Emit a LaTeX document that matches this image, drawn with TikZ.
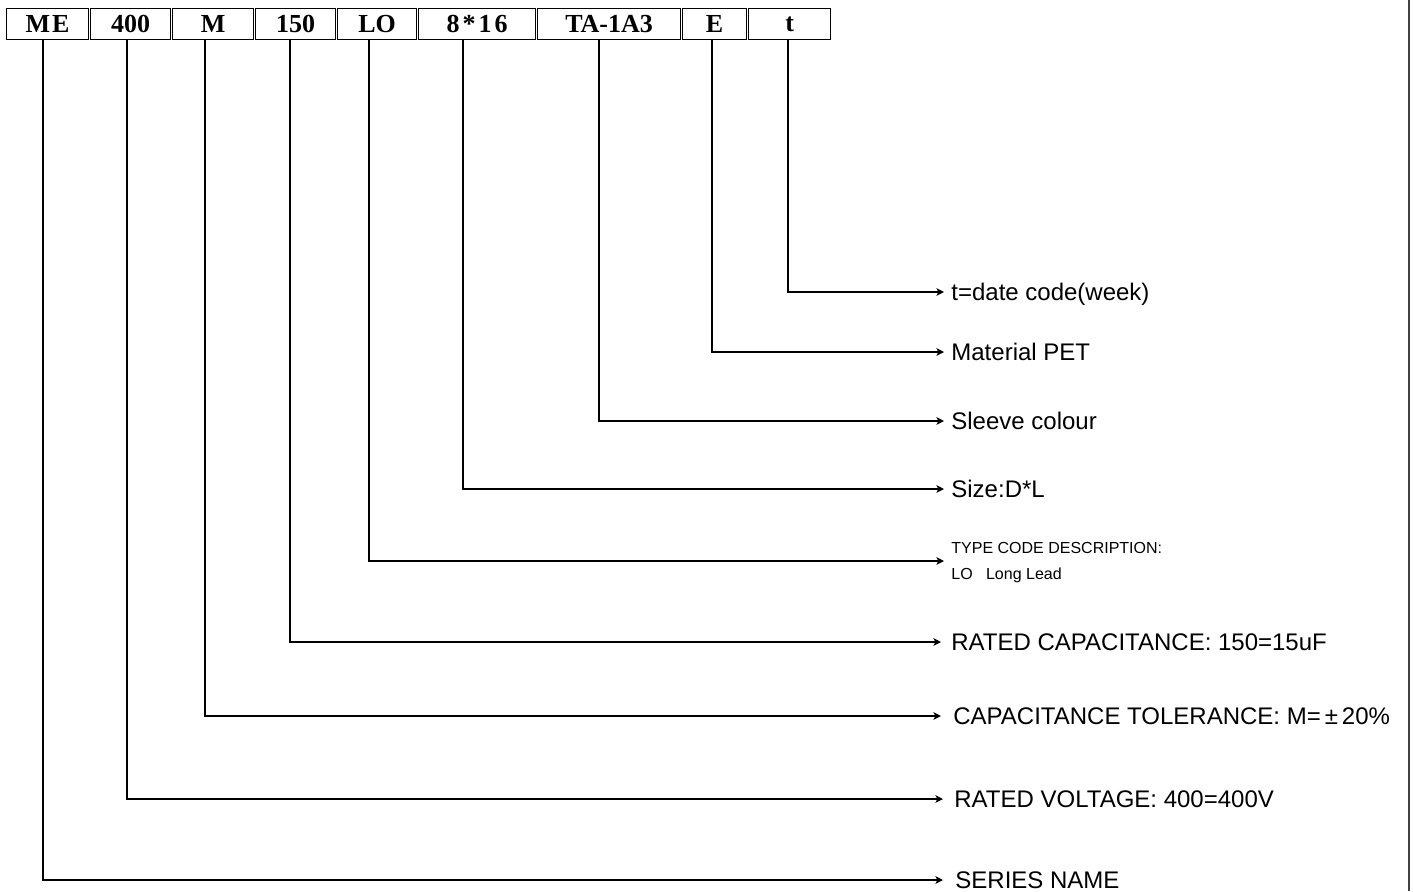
\documentclass[tikz,border=0pt]{standalone}
\usepackage{fontspec}
\setmainfont{Liberation Sans}
\newfontfamily\boxfont{Liberation Serif}
\usetikzlibrary{arrows.meta}
\begin{document}
\begin{tikzpicture}[x=0.5pt,y=-0.5pt,
  codebox/.style={draw=black,line width=0.6pt,inner sep=0pt,anchor=north west,
    minimum height=15.5pt,font=\boxfont\bfseries\fontsize{13}{14}\selectfont},
  conn/.style={line width=0.95pt,-{Stealth[length=3.8pt,width=3.8pt,inset=1pt]}},
  lbl/.style={anchor=base west,inner sep=0pt,font=\fontsize{12}{14}\selectfont},
  smalllbl/.style={anchor=west,inner sep=0pt,align=left,font=\fontsize{8}{13}\selectfont}]
\useasboundingbox (0,0) rectangle (1413,891);
% right border
\draw[line width=1.3pt,black!75] (1409,0) -- (1409,891);
% code boxes
\node[codebox,minimum width=41pt] (bME) at (6,8) {M\kern1pt E};
\node[codebox,minimum width=40pt] (b400) at (90,8) {400};
\node[codebox,minimum width=40.5pt] (bM) at (172,8) {M};
\node[codebox,minimum width=40pt] (b150) at (255,8) {150};
\node[codebox,minimum width=39.5pt] (bLO) at (337,8) {LO};
\node[codebox,minimum width=58.5pt] (bSize) at (418,8) {8\kern1.5pt*\kern1.5pt1\kern1.5pt6};
\node[codebox,minimum width=71.5pt] (bTA) at (537,8) {TA-1A3};
\node[codebox,minimum width=32pt] (bE) at (682,8) {E};
\node[codebox,minimum width=41pt] (bt) at (748,8) {t};
% connector x positions
\coordinate (xME) at (43,0);
\coordinate (x400) at (127,0);
\coordinate (xM) at (205,0);
\coordinate (x150) at (290,0);
\coordinate (xLO) at (369,0);
\coordinate (xSize) at (463,0);
\coordinate (xTA) at (599,0);
\coordinate (xE) at (712,0);
\coordinate (xt) at (788,0);
% arrow tips
\coordinate (tt) at (944,292);
\coordinate (tE) at (944,352);
\coordinate (tTA) at (944,421);
\coordinate (tSize) at (944,489);
\coordinate (tLO) at (944,561);
\coordinate (t150) at (941,642);
\coordinate (tM) at (941,716);
\coordinate (t400) at (943,799);
\coordinate (tME) at (943,880);
% labels
\node[lbl] (lt) at (951,300) {t=date code(week)};
\node[lbl] (lE) at (951,360) {Material PET};
\node[lbl] (lTA) at (951,429) {Sleeve colour};
\node[lbl] (lSize) at (951,497) {Size:D*L};
\node[smalllbl] (lLO) at (951,563) {TYPE CODE DESCRIPTION:\\LO\ \ \ Long Lead};
\node[lbl] (l150) at (951,650) {RATED CAPACITANCE: 150=15uF};
\node[lbl] (lM) at (953,724) {CAPACITANCE TOLERANCE: M=\,±\,20\%};
\node[lbl] (l400) at (954,807) {RATED VOLTAGE: 400=400V};
\node[lbl] (lME) at (955,888) {SERIES NAME};
% connectors
\draw[conn] (bt.south -| xt) |- (tt);
\draw[conn] (bE.south -| xE) |- (tE);
\draw[conn] (bTA.south -| xTA) |- (tTA);
\draw[conn] (bSize.south -| xSize) |- (tSize);
\draw[conn] (bLO.south -| xLO) |- (tLO);
\draw[conn] (b150.south -| x150) |- (t150);
\draw[conn] (bM.south -| xM) |- (tM);
\draw[conn] (b400.south -| x400) |- (t400);
\draw[conn] (bME.south -| xME) |- (tME);
\end{tikzpicture}
\end{document}
